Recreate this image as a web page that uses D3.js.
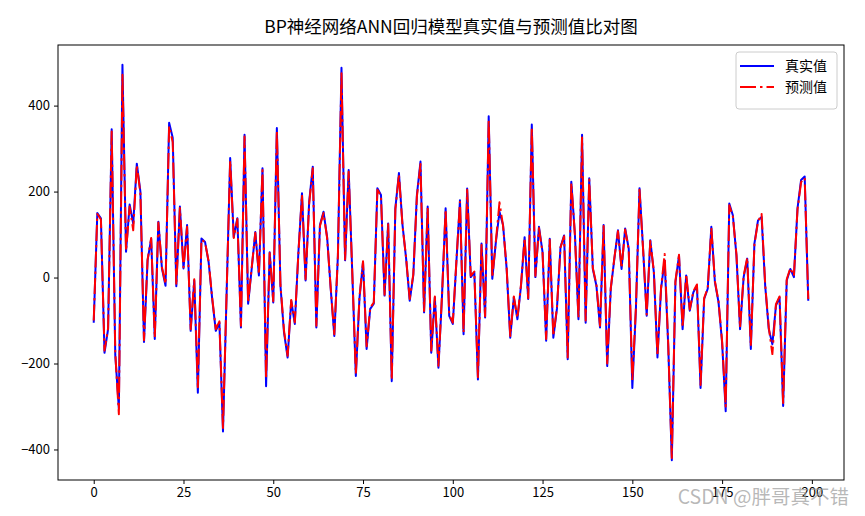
<!DOCTYPE html>
<html><head><meta charset="utf-8">
<script src="https://cdn.jsdelivr.net/npm/d3@7"></script>
<style>body{margin:0;background:#fff}svg{display:block}</style>
</head><body>
<svg id="chart" width="865" height="516"></svg>
<script>
const titleText = "BP神经网络ANN回归模型真实值与预测值比对图";
const seriesNames = ["真实值", "预测值"];
const xTicks = [0, 25, 50, 75, 100, 125, 150, 175, 200];
const yTicks = [-400, -200, 0, 200, 400];
const watermark = "CSDN @胖哥真不错";

const actual = [
 -105,150,138,-175,-120,345,-180,-305,495,60,
 170,125,265,200,-150,40,90,-143,130,21,
 -19,360,325,-20,165,21,122,-124,-7,-268,
 91,83,36,-50,-124,-105,-358,-40,278,94,
 138,-116,332,-61,21,106,5,254,-253,59,
 -58,348,-19,-128,-186,-54,-108,59,196,-7,
 176,258,-116,122,153,94,-26,-136,51,488,
 40,250,12,-229,-49,36,-166,-73,-61,208,
 192,-42,126,-241,161,243,122,44,-54,5,
 192,270,-81,165,-175,-46,-210,-42,161,-89,
 -108,36,180,-132,207,1,12,-237,79,-93,
 375,-3,83,153,122,20,-140,-46,-97,-19,
 94,-50,356,1,118,59,-147,90,-140,-73,
 71,98,-190,223,102,-97,332,-105,231,20,
 -19,-116,122,-206,-26,44,110,20,114,67,
 -257,-73,208,67,-89,87,12,-186,-26,40,
 -159,-425,-11,51,-120,5,-77,-34,-19,-257,
 -50,-26,118,-11,-57,-151,-311,172,145,51,
 -120,1,44,-166,79,133,141,-19,-120,-155,
 -65,-46,-299,-7,20,1,161,227,235,-54
];
const predicted = [
 -100,148,135,-170,-118,340,-175,-318,472,62,
 165,110,262,196,-146,42,92,-140,128,24,
 -15,352,315,-18,162,24,118,-120,-4,-255,
 88,82,38,-48,-120,-102,-350,-38,272,92,
 136,-112,328,-58,24,104,8,250,-235,57,
 -55,342,-16,-124,-182,-52,-104,56,192,-4,
 172,254,-112,120,150,92,-24,-132,49,475,
 42,246,14,-224,-46,38,-160,-70,-58,204,
 190,-40,124,-238,158,240,120,46,-50,8,
 188,264,-78,162,-170,-44,-205,-40,158,-86,
 -105,38,176,-128,204,4,14,-232,76,-90,
 368,0,85,175,120,22,-136,-44,-94,-16,
 92,-48,350,4,115,57,-143,88,-136,-70,
 70,96,-186,220,100,-94,326,-100,228,22,
 -16,-112,120,-200,-24,46,108,22,112,65,
 -240,-70,204,65,-86,85,14,-182,-24,55,
 -156,-420,-8,53,-116,8,-74,-32,-16,-250,
 -48,-24,115,-8,-55,-148,-300,168,142,53,
 -116,4,46,-160,77,130,148,-16,-116,-178,
 -62,-44,-292,-4,22,4,158,222,232,-50
];

const W = 865, H = 516;
const L = 58, R = 844, T = 45, B = 480;
const svg = d3.select("#chart");
const n = actual.length;
const xMin = 0, xMax = n - 1, xPad = (xMax - xMin) * 0.05;
const all = actual.concat(predicted);
const yLo = d3.min(all), yHi = d3.max(all), yPad = (yHi - yLo) * 0.05;

const x = d3.scaleLinear().domain([xMin - xPad, xMax + xPad]).range([L, R]);
const y = d3.scaleLinear().domain([yLo - yPad, yHi + yPad]).range([B, T]);

const font = "'Noto Sans CJK SC', 'DejaVu Sans', sans-serif";

svg.append("defs").append("clipPath").attr("id","clip")
  .append("rect").attr("x",L).attr("y",T).attr("width",R-L).attr("height",B-T);

const line = d3.line().x((d,i)=>x(i)).y(d=>y(d));
const g = svg.append("g").attr("clip-path","url(#clip)");
g.append("path").datum(actual).attr("d", line)
  .attr("fill","none").attr("stroke","#0000ff").attr("stroke-width",2)
  .attr("stroke-linejoin","round");
g.append("path").datum(predicted).attr("d", line)
  .attr("fill","none").attr("stroke","#ff0000").attr("stroke-width",2)
  .attr("stroke-dasharray","16,4,2.5,4").attr("stroke-linejoin","round");

const xAxis = d3.axisBottom(x).tickValues(xTicks).tickSize(4).tickPadding(4).tickFormat(d3.format("d"));
const yAxis = d3.axisLeft(y).tickValues(yTicks).tickSize(4).tickPadding(4).tickFormat(d => d < 0 ? "\u2212" + Math.abs(d) : d);
const gx = svg.append("g").attr("transform",`translate(0,${B})`).call(xAxis);
const gy = svg.append("g").attr("transform",`translate(${L},0)`).call(yAxis);
[gx, gy].forEach(a => {
  a.select(".domain").remove();
  a.selectAll("line").attr("stroke","#000").attr("stroke-width",1);
  a.selectAll("text").attr("font-family",font).attr("font-size",13).attr("fill","#000");
});

svg.append("rect").attr("x",L).attr("y",T).attr("width",R-L).attr("height",B-T)
  .attr("fill","none").attr("stroke","#000").attr("stroke-width",1);

svg.append("text").attr("x",(L+R)/2).attr("y",33).attr("text-anchor","middle")
  .attr("font-family",font).attr("font-size",17.5).attr("fill","#000").text(titleText);

const lg = svg.append("g");
lg.append("rect").attr("x",736).attr("y",52).attr("width",101).attr("height",57)
  .attr("rx",3).attr("fill","#fff").attr("fill-opacity",0.8).attr("stroke","#cccccc");
const legendStyles = [
  {color:"#0000ff", dash:null, y:66},
  {color:"#ff0000", dash:"16,4,2.5,4", y:87}
];
seriesNames.forEach((name,i) => {
  const s = legendStyles[i];
  const ln = lg.append("line").attr("x1",740).attr("x2",774).attr("y1",s.y).attr("y2",s.y)
    .attr("stroke",s.color).attr("stroke-width",2);
  if (s.dash) ln.attr("stroke-dasharray",s.dash);
  lg.append("text").attr("x",785).attr("y",s.y).attr("dy","0.35em")
    .attr("font-family",font).attr("font-size",14).attr("fill","#000").text(name);
});

// watermark (overlaps the last tick labels, as in the reference)
svg.append("text").attr("x",849).attr("y",497).attr("dy","0.35em").attr("text-anchor","end")
  .attr("font-family",font).attr("font-size",19.5).attr("fill","#999").attr("fill-opacity",0.7)
  .text(watermark);
</script>
</body></html>
